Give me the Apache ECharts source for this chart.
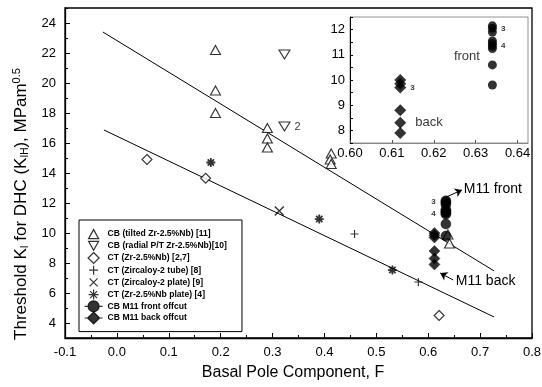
<!DOCTYPE html>
<html>
<head>
<meta charset="utf-8">
<script src="https://cdn.jsdelivr.net/npm/echarts@6/dist/echarts.min.js"></script>
<style>
  html, body { margin: 0; padding: 0; background: #fff; }
  #chart { width: 542px; height: 387px; }
</style>
</head>
<body>
<div id="chart"></div>
<script>
// tick values
const yTicks = [4, 6, 8, 10, 12, 14, 16, 18, 20, 22, 24];
const yMinorTicks = [3, 5, 7, 9, 11, 13, 15, 17, 19, 21, 23, 25];
const insetXTicks = [0.60, 0.61, 0.62, 0.63, 0.64];
const insetYTicks = [8, 9, 10, 11, 12];
const insetYMinor = [7.5, 8, 8.5, 9, 9.5, 10, 10.5, 11, 11.5, 12, 12.5];

// CB (tilted Zr-2.5%Nb) [11]
const tiltedF = [0.19, 0.19, 0.19, 0.29, 0.29, 0.29, 0.413, 0.411, 0.413, 0.638, 0.641];
const tiltedK = [22.2, 19.5, 18.0, 17.0, 16.3, 15.7, 15.3, 14.9, 14.6, 9.9, 9.3];
// CB (radial P/T Zr-2.5%Nb) [10]
const radialF = [0.323, 0.323];
const radialK = [21.9, 17.1];
const radialNotes = ['', '2'];
// CT (Zr-2.5%Nb) [2,7]
const ctNbF = [0.058, 0.171, 0.621];
const ctNbK = [14.9, 13.65, 4.5];
// CT (Zircaloy-2 tube) [8]
const tubeF = [0.458, 0.581];
const tubeK = [9.93, 6.73];
// CT (Zircaloy-2 plate) [9]
const plateF = [0.313];
const plateK = [11.47];
// CT (Zr-2.5%Nb plate) [4]
const nbPlateF = [0.181, 0.39, 0.531];
const nbPlateK = [14.7, 10.93, 7.53];
// CB M11 front / back offcut
const frontF = 0.634;
const frontK = [12.15, 12.05, 11.9, 11.55, 11.45, 11.35, 11.25, 10.6, 9.8];
const frontNotesMain = ['', '3', '', '', '', '', '4', '', ''];
const frontNotesInset = ['', '3', '', '', '', '4', '', 'front', ''];
const backF = 0.612;
const backK = [10.0, 9.85, 9.7, 8.8, 8.3, 7.9];
const backNotesInset = ['', '', '3', '', 'back', ''];

// fitted lines (end points)
const fitUpperF = [-0.027, 0.727];
const fitUpperK = [23.4, 7.47];
const fitLowerF = [-0.025, 0.727];
const fitLowerK = [16.87, 4.4];

const FONT = '"Liberation Sans", Arial, Helvetica, sans-serif';

const names = [
  'CB (tilted Zr-2.5%Nb) [11]',
  'CB (radial P/T Zr-2.5%Nb)[10]',
  'CT (Zr-2.5%Nb) [2,7]',
  'CT (Zircaloy-2 tube) [8]',
  'CT (Zircaloy-2 plate) [9]',
  'CT (Zr-2.5%Nb plate) [4]',
  'CB M11 front offcut',
  'CB M11 back offcut'
];

// legend icons, padded to an 18x12 box with moveTo so they keep their size
const legendIcons = [
  'path://M0,0M18,12M4,11L9,2L14,11Z',
  'path://M0,0M18,12M4,1.5H14L9,10.5Z',
  'path://M0,0M18,12M9,0.5L14.5,6L9,11.5L3.5,6Z',
  'path://M0,0M18,12M9,1.5V10.5M4.5,6H13.5',
  'path://M0,0M18,12M5,2L13,10M13,2L5,10',
  'path://M0,0M18,12M9,1V11M4,6H14M5.5,2.5L12.5,9.5M12.5,2.5L5.5,9.5',
  'path://M0,6H3.5M14.5,6H18M9,0.5A5.5,5.5 0 1 1 8.99,0.5Z',
  'path://M0,6H3M15,6H18M9,0L15,6L9,12L3,6Z'
];

const pts = (fs, ks) => ks.map((k, i) => [Array.isArray(fs) ? fs[i] : fs, k]);

const hollow = { color: '#fff', borderColor: '#000', borderWidth: 1.1 };
const stroked = w => ({ color: 'rgba(0,0,0,0)', borderColor: '#000', borderWidth: w });
const solid = { color: '#000', borderColor: '#000', borderWidth: 0.5 };

function noted(fs, ks, notes, labelFor) {
  return pts(fs, ks).map((p, i) => {
    const item = { value: p };
    if (notes[i]) item.label = Object.assign({ show: true, formatter: notes[i] }, labelFor(notes[i]));
    return item;
  });
}

const smallNote = { fontSize: 8, fontWeight: 'bold', color: '#000', fontFamily: FONT };

const chart = echarts.init(document.getElementById('chart'));

const option = {
  animation: false,
  backgroundColor: '#fff',
  textStyle: { fontFamily: FONT, color: '#000' },
  grid: [
    { left: 65, right: 10, top: 8, bottom: 49, show: true, borderColor: '#000', borderWidth: 1.3, outerBoundsMode: 'none' },
    { left: 350, right: 14, top: 17, bottom: 244, show: true, borderColor: '#777', borderWidth: 0.8, backgroundColor: '#fff', outerBoundsMode: 'none' }
  ],
  legend: {
    orient: 'vertical',
    left: 79,
    top: 220,
    itemWidth: 18,
    itemHeight: 12,
    itemGap: -1,
    padding: [7, 15, 7, 5],
    borderColor: '#000',
    borderWidth: 1,
    backgroundColor: '#fff',
    selectedMode: false,
    itemStyle: { borderWidth: 1.2 },
    textStyle: { fontSize: 8.6, fontWeight: 'bold', color: '#000', fontFamily: FONT },
    data: names.map((n, i) => ({ name: n, icon: legendIcons[i] }))
  },
  xAxis: [
    {
      gridIndex: 0, type: 'value', min: -0.1, max: 0.8, interval: 0.1,
      name: 'Basal Pole Component, F', nameLocation: 'middle', nameGap: 27,
      nameTextStyle: { fontSize: 16, color: '#000', fontFamily: FONT, padding: [0, 11, 0, 0] },
      axisLine: { onZero: false, lineStyle: { color: '#000', width: 1.3 } },
      axisTick: { inside: true, length: 5, lineStyle: { color: '#000' } },
      minorTick: { show: true, splitNumber: 2, length: 3, lineStyle: { color: '#000' } },
      axisLabel: { fontSize: 13, color: '#000', margin: 8, formatter: v => v.toFixed(1) },
      splitLine: { show: false }
    },
    {
      gridIndex: 1, type: 'value', min: 0.6, max: 0.6425,
      axisLine: { onZero: false, lineStyle: { color: '#777', width: 0.8 } },
      axisTick: { inside: true, length: 3, customValues: insetXTicks, lineStyle: { color: '#555' } },
      axisLabel: { fontSize: 13, color: '#000', margin: 4, customValues: insetXTicks, formatter: v => v.toFixed(2) },
      splitLine: { show: false }
    }
  ],
  yAxis: [
    {
      gridIndex: 0, type: 'value', min: 3, max: 25, position: 'left',
      name: 'Threshold K{sub|I} for DHC (K{sub|IH}), MPam{sup|0.5}',
      nameLocation: 'middle', nameRotate: 90, nameGap: 33,
      nameTextStyle: {
        fontSize: 17, color: '#000', fontFamily: FONT, padding: [0, 62, 0, 0],
        rich: {
          sub: { fontSize: 10, fontFamily: FONT, color: '#000', padding: [9, 0, 0, 0] },
          sup: { fontSize: 11, fontFamily: FONT, color: '#000', padding: [0, 0, 9, 0] }
        }
      },
      axisLine: { onZero: false, lineStyle: { color: '#000', width: 1.3 } },
      axisTick: { inside: true, length: 5, customValues: yTicks, lineStyle: { color: '#000' } },
      axisLabel: { fontSize: 13, color: '#000', margin: 9, customValues: yTicks },
      splitLine: { show: false }
    },
    {
      gridIndex: 0, type: 'value', min: 3, max: 25, position: 'left',
      axisLine: { show: false, onZero: false },
      axisTick: { inside: true, length: 3, customValues: yMinorTicks, lineStyle: { color: '#000' } },
      axisLabel: { show: false },
      splitLine: { show: false }
    },
    {
      gridIndex: 1, type: 'value', min: 7.5, max: 12.5,
      axisLine: { onZero: false, lineStyle: { color: '#000', width: 1 } },
      axisTick: { inside: true, length: 3, customValues: insetYMinor, lineStyle: { color: '#000' } },
      axisLabel: { fontSize: 13, color: '#000', margin: 5, customValues: insetYTicks },
      splitLine: { show: false }
    }
  ],
  series: [
    {
      type: 'line', data: pts(fitUpperF, fitUpperK), showSymbol: false, silent: true, z: 1,
      lineStyle: { color: '#000', width: 1 }
    },
    {
      type: 'line', data: pts(fitLowerF, fitLowerK), showSymbol: false, silent: true, z: 1,
      lineStyle: { color: '#000', width: 1 }
    },
    {
      name: names[0], type: 'scatter', symbol: 'triangle', symbolSize: [10, 9],
      itemStyle: hollow, data: pts(tiltedF, tiltedK)
    },
    {
      name: names[1], type: 'scatter', symbol: 'triangle', symbolRotate: 180, symbolSize: [11, 9],
      itemStyle: hollow,
      data: noted(radialF, radialK, radialNotes, () => ({ position: 'right', distance: 4, fontSize: 11, color: '#000', fontFamily: FONT }))
    },
    {
      name: names[2], type: 'scatter', symbol: 'diamond', symbolSize: [10, 10],
      itemStyle: hollow, data: pts(ctNbF, ctNbK)
    },
    {
      name: names[3], type: 'scatter', symbol: 'path://M5,0V10M0,5H10', symbolSize: 8,
      itemStyle: stroked(1.1), data: pts(tubeF, tubeK)
    },
    {
      name: names[4], type: 'scatter', symbol: 'path://M0,0L10,10M10,0L0,10', symbolSize: 9,
      itemStyle: stroked(1.4), data: pts(plateF, plateK)
    },
    {
      name: names[5], type: 'scatter', symbol: 'path://M5,0V10M0,5H10M1.5,1.5L8.5,8.5M8.5,1.5L1.5,8.5', symbolSize: 9,
      itemStyle: stroked(1.8), data: pts(nbPlateF, nbPlateK)
    },
    {
      name: names[6], type: 'scatter', symbol: 'circle', symbolSize: 10, z: 3,
      itemStyle: solid,
      data: noted(frontF, frontK, frontNotesMain, () => Object.assign({ position: 'left', distance: 5 }, smallNote)),
      markLine: {
        silent: true, symbol: ['none', 'arrow'], symbolSize: 7,
        lineStyle: { color: '#000', width: 1, type: 'solid' },
        label: { show: true, position: 'end', distance: 2, fontSize: 14, color: '#000', fontFamily: FONT },
        data: [[{ coord: [0.635, 12.4], label: { formatter: 'M11 front' } }, { coord: [0.665, 12.87] }]]
      }
    },
    {
      name: names[7], type: 'scatter', symbol: 'diamond', symbolSize: 11, z: 3,
      itemStyle: solid,
      data: pts(backF, backK),
      markLine: {
        silent: true, symbol: ['none', 'arrow'], symbolSize: 7,
        lineStyle: { color: '#000', width: 1, type: 'solid' },
        label: { show: true, position: 'start', distance: 3, fontSize: 14, color: '#000', fontFamily: FONT },
        data: [[{ coord: [0.648, 6.87], label: { formatter: 'M11 back' } }, { coord: [0.623, 7.33] }]]
      }
    },
    // inset
    {
      name: 'inset front', type: 'scatter', xAxisIndex: 1, yAxisIndex: 2, symbol: 'circle', symbolSize: 9,
      itemStyle: { color: '#000' },
      data: noted(frontF, frontK, frontNotesInset, n => n === 'front'
        ? { position: 'left', distance: 8, offset: [0, -8], fontSize: 13, color: '#000', fontFamily: FONT }
        : Object.assign({ position: 'right', distance: 4 }, smallNote))
    },
    {
      name: 'inset back', type: 'scatter', xAxisIndex: 1, yAxisIndex: 2, symbol: 'diamond', symbolSize: 12,
      itemStyle: { color: '#000' },
      data: noted(backF, backK, backNotesInset, n => n === 'back'
        ? { position: 'right', distance: 9, fontSize: 13, color: '#000', fontFamily: FONT }
        : Object.assign({ position: 'right', distance: 4 }, smallNote))
    }
  ]
};

chart.setOption(option);
</script>
</body>
</html>
